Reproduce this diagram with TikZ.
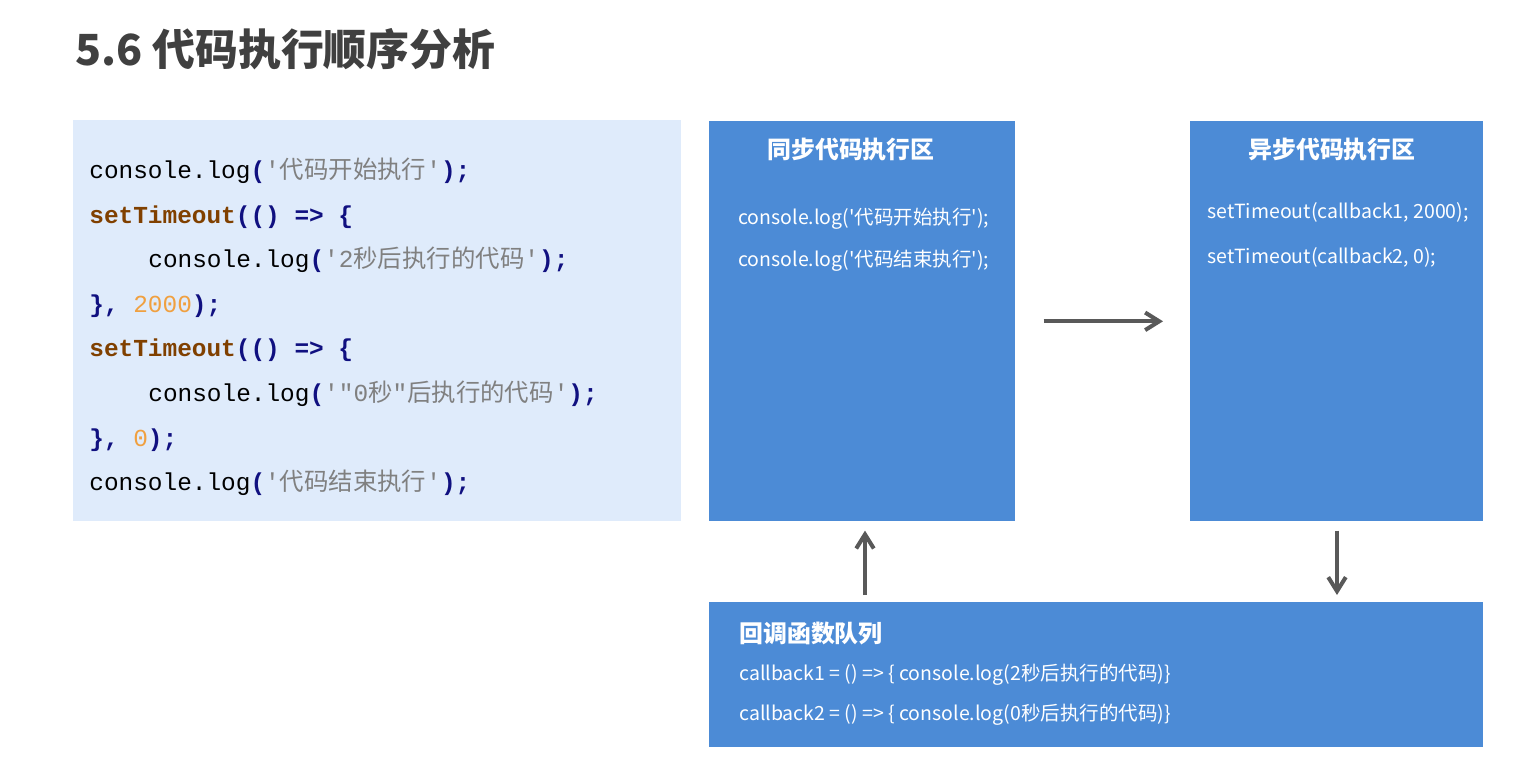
\documentclass[tikz,border=0pt]{standalone}
\usepackage{fontspec}
\setmonofont{Liberation Mono}
\newfontfamily\cjk{Noto Sans CJK SC}
\usetikzlibrary{arrows.meta,positioning}

\definecolor{areablue}{RGB}{76,139,214}
\definecolor{codebg}{RGB}{223,235,251}
\definecolor{arrowgray}{RGB}{89,89,89}
\definecolor{titlegray}{RGB}{64,64,64}
\definecolor{kwbrown}{RGB}{128,64,0}
\definecolor{punnavy}{RGB}{16,16,128}
\definecolor{strgray}{RGB}{128,128,128}
\definecolor{numorange}{RGB}{240,160,64}

\newcommand{\ckw}[1]{\textcolor{kwbrown}{\bfseries #1}}
\newcommand{\cpu}[1]{\textcolor{punnavy}{\bfseries #1}}
\newcommand{\cstr}[1]{\textcolor{strgray}{#1}}
\newcommand{\cnum}[1]{\textcolor{numorange}{#1}}
\newcommand{\zh}[1]{{\cjk #1}}

\tikzset{
  area/.style={fill=areablue, anchor=north west, inner sep=0pt},
  areatitle/.style={text=white, font=\cjk\bfseries\fontsize{13.6}{16}\selectfont, inner sep=0pt},
  areatext/.style={text=white, anchor=west, font=\cjk\fontsize{11.1}{14}\selectfont, inner sep=0pt},
  codeline/.style={anchor=base west, inner sep=0pt, font=\ttfamily\fontsize{13.9}{16}\selectfont},
  flow/.style={draw=arrowgray, line width=2.3pt, -{Straight Barb[length=8pt,width=10pt]}},
}

\begin{document}
\begin{tikzpicture}[x=0.02cm,y=-0.02cm]
\fill[white] (0,0) rectangle (1539,758);
\useasboundingbox (0,0) rectangle (1539,758);

% title
\node[anchor=base west, inner sep=0pt, text=titlegray, font=\cjk\bfseries\fontsize{24.4}{28}\selectfont] (title) at (75,65) {5.6 代码执行顺序分析};

% code listing
\node[fill=codebg, anchor=north west, inner sep=0pt, minimum width=12.16cm, minimum height=8.02cm] (code) at (73,120) {};
\node[codeline] (c1) at (89,178) {console.log\cpu{(}\cstr{'\zh{代码开始执行}'}\cpu{);}};
\node[codeline] (c2) at (89,223) {\ckw{setTimeout}\cpu{(() => \{}};
\node[codeline] (c3) at (148,267) {console.log\cpu{(}\cstr{'2\zh{秒后执行的代码}'}\cpu{);}};
\node[codeline] (c4) at (89,312) {\cpu{\}, }\cnum{2000}\cpu{);}};
\node[codeline] (c5) at (89,356) {\ckw{setTimeout}\cpu{(() => \{}};
\node[codeline] (c6) at (148,401) {console.log\cpu{(}\cstr{'"0\zh{秒}"\zh{后执行的代码}'}\cpu{);}};
\node[codeline] (c7) at (89,446) {\cpu{\}, }\cnum{0}\cpu{);}};
\node[codeline] (c8) at (89,490) {console.log\cpu{(}\cstr{'\zh{代码结束执行}'}\cpu{);}};

% areas
\node[area, minimum width=6.12cm, minimum height=8cm] (sync) at (709,121) {};
\node[area, minimum width=5.86cm, minimum height=8cm] (async) at (1190,121) {};
\node[area, minimum width=15.48cm, minimum height=2.9cm] (queue) at (709,602) {};

\node[areatitle] (synct) at (851,150) {同步代码执行区};
\node[areatext] (s1) at (738,219) {console.log('代码开始执行');};
\node[areatext] (s2) at (738,261) {console.log('代码结束执行');};

\node[areatitle] (asynct) at (1332,150) {异步代码执行区};
\node[areatext] (a1) at (1207,212) {setTimeout(callback1, 2000);};
\node[areatext] (a2) at (1207,257) {setTimeout(callback2, 0);};

\node[areatitle, anchor=west] (queuet) at (739,634) {回调函数队列};
\node[areatext] (q1) at (739,675) {callback1 = () => \{ console.log(2秒后执行的代码)\}};
\node[areatext] (q2) at (739,715) {callback2 = () => \{ console.log(0秒后执行的代码)\}};

% flow
\coordinate (upx) at (865,0);
\coordinate (downx) at (1337,0);
\draw[flow, shorten <=0.56cm, shorten >=0.54cm] (sync.east) -- (async.west);
\draw[flow, shorten <=0.14cm, shorten >=0.18cm] (queue.north -| upx) -- (sync.south -| upx);
\draw[flow, shorten <=0.18cm, shorten >=0.14cm] (async.south -| downx) -- (queue.north -| downx);
\end{tikzpicture}
\end{document}
